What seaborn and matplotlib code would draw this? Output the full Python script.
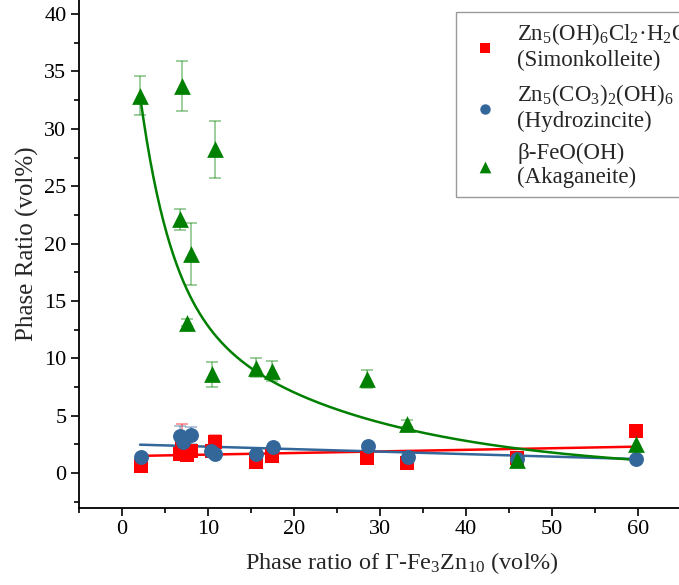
import numpy as np
import pandas as pd
import matplotlib
matplotlib.use("Agg")
import matplotlib.pyplot as plt
import seaborn as sns
from matplotlib.ticker import MultipleLocator

# Measured phase fractions vs. Gamma-Fe3Zn10 content (vol%)
simon_x = [2.2, 6.7, 7.0, 7.5, 8.05, 10.5, 10.8, 15.6, 17.4, 28.5, 33.1, 45.9, 59.8]
simon_y = [0.58, 1.66, 2.7, 1.57, 1.94, 1.9, 2.68, 0.93, 1.5, 1.28, 0.87, 1.28, 3.7]
simon_err = [0, 0, 1.6, 0.15, 0, 0, 0.6, 0, 0, 0, 0.1, 0, 0]

hydro_x = [2.2, 6.7, 7.15, 8.05, 10.4, 10.8, 15.6, 17.5, 28.6, 33.2, 45.9, 59.8]
hydro_y = [1.37, 3.25, 2.67, 3.3, 1.94, 1.66, 1.66, 2.24, 2.38, 1.37, 1.22, 1.22]
hydro_err = [0, 0.85, 0, 0.75, 0, 0, 0, 0, 0, 0, 0, 0]

akag_x = [2.1, 6.8, 7.0, 7.5, 8.05, 10.5, 10.8, 15.6, 17.4, 28.5, 33.1, 45.9, 59.8]
akag_y = [32.9, 22.1, 33.75, 13.1, 19.1, 8.6, 28.2, 9.2, 8.9, 8.2, 4.3, 1.15, 2.5]
akag_err = [1.7, 0.9, 2.2, 0.3, 2.7, 1.1, 2.5, 0.8, 0.9, 0.8, 0.3, 0, 0]

# Fit parameters: linear (intercept, slope) and second-order exponential decay
simon_fit = [1.47, 0.0139]
hydro_fit = [2.52, -0.0217]
akag_fit = [31.0, 3.64, 17.0, 22.2]   # A1, t1, A2, t2
fit_range = [2.1, 59.8]

labels = ["Zn$_5$(OH)$_6$Cl$_2$\u00b7H$_2$O\n(Simonkolleite)",
          "Zn$_5$(CO$_3$)$_2$(OH)$_6$\n(Hydrozincite)",
          "\u03b2-FeO(OH)\n(Akaganeite)"]
colors = ["#FF0000", "#336699", "#008000"]
markers = ["s", "o", "^"]
sizes = [95, 115, 145]

sns.set_theme(style="ticks")
plt.rcParams["font.family"] = ["Liberation Serif", "DejaVu Serif"]
plt.rcParams["mathtext.fontset"] = "custom"
plt.rcParams["mathtext.rm"] = "Liberation Serif"
plt.rcParams["mathtext.it"] = "Liberation Serif:italic"

W, H = 679, 585
x_lo, x_hi = -5, 70
y_lo, y_hi = -3, 43
px_x, px_y = 8.6, 11.475          # pixels per data unit
left_px, bottom_px = 79, 507.5    # axes origin (from top-left)

fig = plt.figure(figsize=(W / 100, H / 100), dpi=100)
ax = fig.add_axes([left_px / W, (H - bottom_px) / H,
                   (x_hi - x_lo) * px_x / W, (y_hi - y_lo) * px_y / H])

series = [(simon_x, simon_y, simon_err), (hydro_x, hydro_y, hydro_err), (akag_x, akag_y, akag_err)]

xs = np.linspace(fit_range[0], fit_range[1], 300)
fit_curves = [
    simon_fit[0] + simon_fit[1] * xs,
    hydro_fit[0] + hydro_fit[1] * xs,
    akag_fit[0] * np.exp(-xs / akag_fit[1]) + akag_fit[2] * np.exp(-xs / akag_fit[3]),
]

for (x, y, e), lab, c, m, s, yc in zip(series, labels, colors, markers, sizes, fit_curves):
    df = pd.DataFrame({"x": x, "y": y, "e": e})
    has_err = df["e"] > 0
    ax.errorbar(df.loc[has_err, "x"], df.loc[has_err, "y"], yerr=df.loc[has_err, "e"],
                fmt="none", ecolor=c, alpha=0.45, capsize=4, elinewidth=1.2, capthick=1.2, zorder=2)
    sns.lineplot(x=xs, y=yc, color=c, lw=1.8, ax=ax, zorder=3)
    sns.scatterplot(data=df, x="x", y="y", marker=m, s=s, color=c, edgecolor=c,
                    linewidth=0, label=lab, ax=ax, zorder=4)

ax.set_xlim(x_lo, x_hi)
ax.set_ylim(y_lo, y_hi)
ax.set_xticks([0, 10, 20, 30, 40, 50, 60])
ax.xaxis.set_minor_locator(MultipleLocator(5))
ax.set_yticks([0, 5, 10, 15, 20, 25, 30, 35, 40])
ax.yaxis.set_minor_locator(MultipleLocator(2.5))
ax.tick_params(which="major", direction="out", length=6, width=1.2, labelsize=16, color="black",
               labelcolor="black", pad=3)
ax.tick_params(which="minor", direction="out", length=3.5, width=1.2, color="black")
for side in ["left", "bottom"]:
    ax.spines[side].set_linewidth(1.3)
    ax.spines[side].set_color("black")
ax.spines["top"].set_visible(False)
ax.spines["right"].set_visible(False)

ax.set_xlabel("Phase ratio of \u0393-Fe$_3$Zn$_{10}$ (vol%)", fontsize=17.5, labelpad=8)
ax.set_ylabel("Phase Ratio (vol%)", fontsize=18, labelpad=4)

handles, labs = ax.get_legend_handles_labels()
leg = ax.legend(handles, labs, loc="upper left", bbox_to_anchor=(456 / W, 1 - 12 / H),
                bbox_transform=fig.transFigure, borderaxespad=0, frameon=True, fancybox=False,
                edgecolor="#808080", fontsize=16.5, markerscale=0.7, handletextpad=0.57,
                labelspacing=0.45, borderpad=0.4, handlelength=1.7)
leg.get_frame().set_linewidth(1.0)

fig.savefig("out.png", dpi=100)
